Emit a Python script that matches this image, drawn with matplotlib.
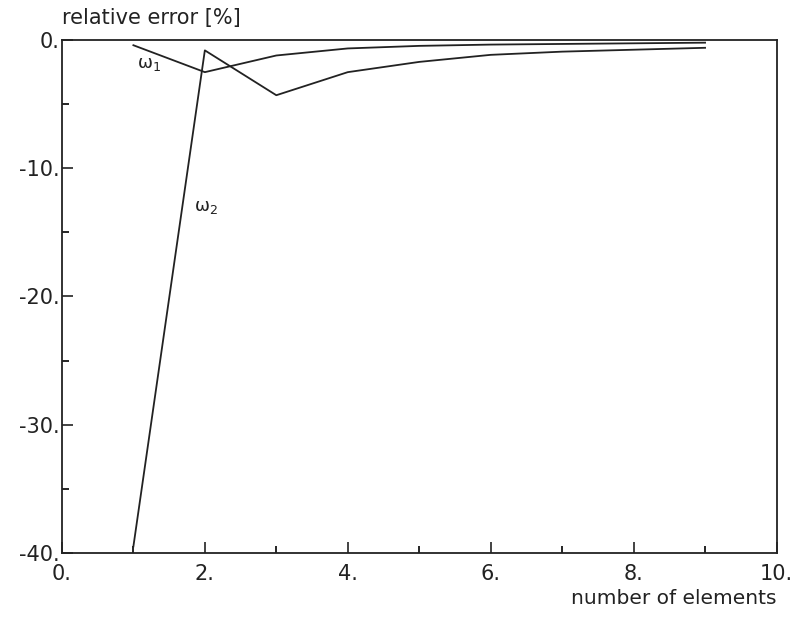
import matplotlib
matplotlib.use("Agg")
import matplotlib.pyplot as plt
from matplotlib.ticker import MultipleLocator

elements = [1, 2, 3, 4, 5, 6, 7, 8, 9]
omega1 = [-0.4, -2.5, -1.2, -0.65, -0.45, -0.35, -0.3, -0.25, -0.2]
omega2 = [-39.5, -0.8, -4.3, -2.5, -1.7, -1.15, -0.9, -0.75, -0.6]

x_ticks = [0, 2, 4, 6, 8, 10]
x_tick_labels = ["0.", "2.", "4.", "6.", "8.", "10."]
y_ticks = [0, -10, -20, -30, -40]
y_tick_labels = ["0.", "-10.", "-20.", "-30.", "-40."]

fig = plt.figure(figsize=(7.94, 6.17), dpi=100)
ax = fig.add_axes([0.078, 0.104, 0.900, 0.831])
ax.plot(elements, omega1, color="#222222", lw=1.3)
ax.plot(elements, omega2, color="#222222", lw=1.3)
ax.set_xlim(0, 10)
ax.set_ylim(-40, 0)
ax.set_xticks(x_ticks)
ax.set_xticklabels(x_tick_labels)
ax.set_yticks(y_ticks)
ax.set_yticklabels(y_tick_labels)
ax.xaxis.set_minor_locator(MultipleLocator(1))
ax.yaxis.set_minor_locator(MultipleLocator(5))
ax.tick_params(axis="both", which="major", direction="in", length=8, width=1.2,
               labelsize=15, colors="#222222")
ax.tick_params(axis="both", which="minor", direction="in", length=5, width=1.2)
ax.tick_params(axis="x", pad=8)
ax.tick_params(axis="y", pad=2)
for s in ax.spines.values():
    s.set_linewidth(1.3)
    s.set_color("#222222")

ax.text(1.05, -2.2, "ω$_1$", fontsize=13, color="#222222")
ax.text(1.85, -13.3, "ω$_2$", fontsize=13, color="#222222")

fig.text(0.078, 0.955, "relative error [%]", fontsize=15, color="#222222",
         ha="left", va="bottom")
fig.text(0.978, 0.015, "number of elements", fontsize=14.5, color="#222222",
         ha="right", va="bottom")

fig.savefig("out.png", dpi=100)
